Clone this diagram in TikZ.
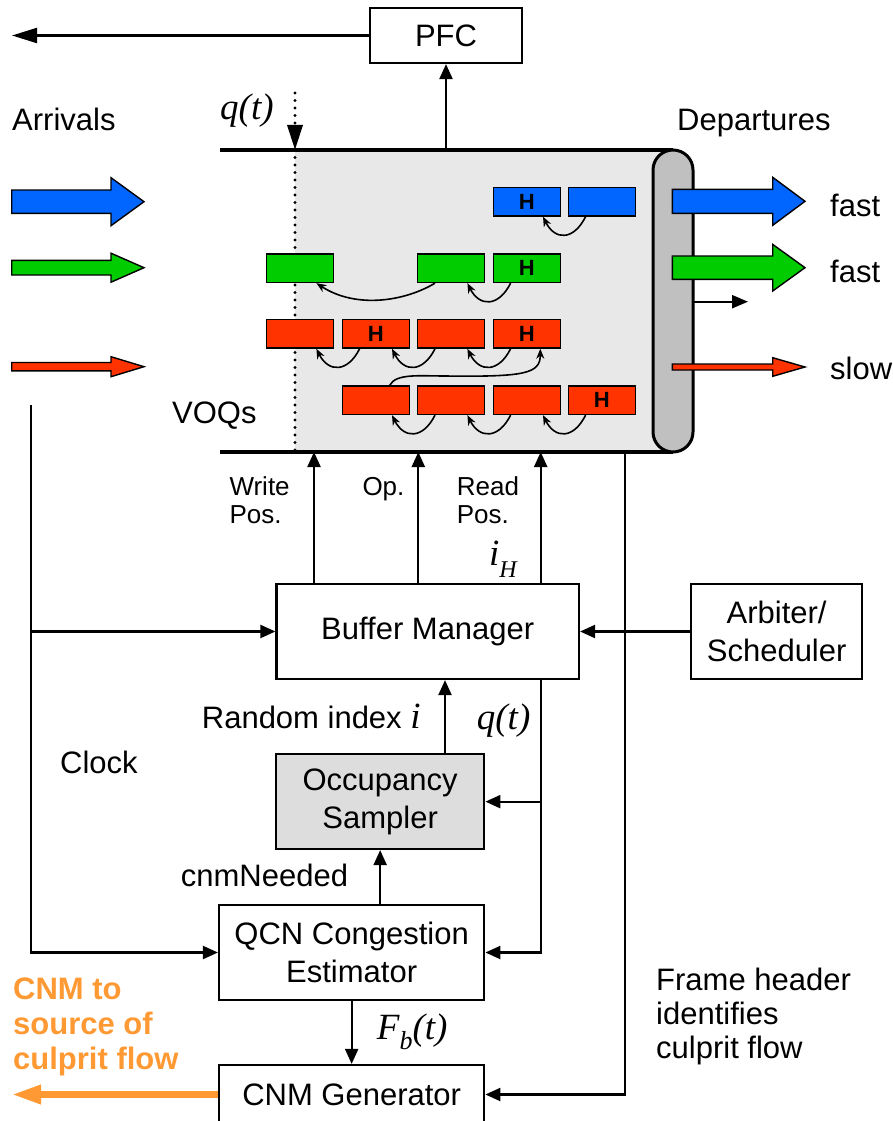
\documentclass[tikz,border=0pt]{standalone}
\usepackage{fontspec}
\setmainfont{Liberation Sans}
\newfontfamily\tms{Liberation Serif}
\usetikzlibrary{arrows.meta}
\definecolor{qblue}{RGB}{0,102,255}
\definecolor{qgreen}{RGB}{0,204,0}
\definecolor{qred}{RGB}{255,51,0}
\definecolor{qorange}{RGB}{255,153,51}
\definecolor{voqfill}{RGB}{232,232,232}
\definecolor{pillfill}{RGB}{192,192,192}
\definecolor{occfill}{RGB}{221,221,221}
\newcommand\fatarr[7]{\filldraw[fill=#1,draw=black,line width=1.4pt,line join=miter] ({#2},{#5-#6}) -- ({#3},{#5-#6}) -- ({#3},{#5-#7}) -- ({#4},{#5}) -- ({#3},{#5+#7}) -- ({#3},{#5+#6}) -- ({#2},{#5+#6}) -- cycle;}
\newcommand\mainsz{\fontsize{31}{37}\selectfont}
\newcommand\boxsz{\fontsize{31}{38}\selectfont}
\newcommand\smallsz{\fontsize{26}{28}\selectfont}
\newcommand\mathsz{\fontsize{37}{40}\selectfont}
\newcommand\hop[2]{\draw[carr] ([xshift=18pt]#1.south west) .. controls +(-12,24) and +(12,24) .. ([xshift=-18pt]#2.south east);}
\begin{document}
\begin{tikzpicture}[x=1pt,y=-1pt,
 box/.style={draw=black,line width=2.2pt,inner sep=0pt,font=\boxsz,align=center},
 lbl/.style={inner sep=0pt,anchor=base west,font=\mainsz},
 arr/.style={line width=2.2pt,-{Triangle[length=15pt,width=13pt]}},
 longarr/.style={line width=2.2pt,-{Triangle[length=25pt,width=15pt]}},
 dotline/.style={line width=3.3pt,dash pattern=on 0pt off 7.5pt,line cap=round},
 pkt/.style={draw=black,line width=1.4pt,minimum width=67pt,minimum height=28.5pt,inner sep=0pt,font=\fontsize{22}{22}\selectfont\bfseries},
 carr/.style={line width=1.6pt,-{Stealth[length=10pt,width=8pt]}},
]
\useasboundingbox (0,0) rectangle (893,1121);
\clip (0,0) rectangle (893,1121);

% ---------- VOQ buffer ----------
\fill[voqfill] (295,150) rectangle (673,452);
\draw[dotline] (295,150) -- (295,452);
\draw[line width=4pt] (220,150) -- (673,150);
\draw[line width=4pt] (220,452) -- (673,452);
\filldraw[fill=pillfill,draw=black,line width=3pt,rounded corners=20pt] (653,150) rectangle (693,452);

% q(t) dotted arrow
\coordinate (qtop) at (295,93);
\coordinate (qtip) at (295,150);
\draw[dotline,-{Triangle[length=25pt,width=15pt]}] (qtop) -- (qtip);

% ---------- packets ----------
\node[pkt,fill=qblue] (b4) at (526.8,201.7) {H};
\node[pkt,fill=qblue] (b5) at (601.8,201.7) {};
\node[pkt,fill=qgreen] (g1) at (300.2,268.2) {};
\node[pkt,fill=qgreen] (g3) at (451.2,268.2) {};
\node[pkt,fill=qgreen] (g4) at (526.8,268.2) {H};
\node[pkt,fill=qred] (r1a) at (300.2,333.8) {};
\node[pkt,fill=qred] (r1b) at (375.8,333.8) {H};
\node[pkt,fill=qred] (r1c) at (451.2,333.8) {};
\node[pkt,fill=qred] (r1d) at (526.8,333.8) {H};
\node[pkt,fill=qred] (r2b) at (375.8,400.2) {};
\node[pkt,fill=qred] (r2c) at (451.2,400.2) {};
\node[pkt,fill=qred] (r2d) at (526.8,400.2) {};
\node[pkt,fill=qred] (r2e) at (601.8,400.2) {H};

\hop{b5}{b4}
\hop{g4}{g3}
\hop{r1b}{r1a}
\hop{r1c}{r1b}
\hop{r1d}{r1c}
\hop{r2e}{r2d}
\hop{r2d}{r2c}
\hop{r2c}{r2b}
\draw[carr] ([xshift=18pt]g3.south west) .. controls +(-30,18) and +(40,26) .. ([xshift=-18pt]g1.south east);
\coordinate (upmid) at (445,376);
\draw[carr] ([xshift=14pt]r2b.north) .. controls +(6,-12) and +(-25,0) .. (upmid) .. controls +(80,1) and +(0,25) .. ([xshift=13.5pt]r1d.south);

% ---------- fat arrows ----------
\fatarr{qblue}{11.7}{111}{144}{201.7}{11.7}{24}
\fatarr{qgreen}{11.7}{111}{144}{267.7}{7.3}{14.5}
\fatarr{qred}{11.7}{111}{144}{366.7}{4.2}{10}
\fatarr{qblue}{672.3}{772.7}{805}{201.3}{12}{24}
\fatarr{qgreen}{672.3}{772.7}{805}{267.7}{11.7}{23.3}
\fatarr{qred}{672.3}{772.7}{805}{367}{3}{9.3}
\coordinate (sa0) at (693,301.7);
\coordinate (sa1) at (748,301.7);
\draw[line width=2.2pt,-{Triangle[length=16pt,width=13pt]}] (sa0) -- (sa1);

% ---------- boxes ----------
\node[box,minimum width=152pt,minimum height=55pt] (pfc) at (446,35.5) {PFC};
\node[box,minimum width=302.5pt,minimum height=95pt] (bm) at (427.75,631.5) {Buffer Manager};
\node[box,minimum width=171.3pt,minimum height=95pt] (arb) at (776.65,631.5) {Arbiter/\\Scheduler};
\node[box,fill=occfill,minimum width=208.3pt,minimum height=94.7pt] (occ) at (380.15,801.65) {Occupancy\\Sampler};
\node[box,minimum width=265.3pt,minimum height=95pt] (qcn) at (351.65,952.5) {QCN Congestion\\Estimator};
\node[box,minimum width=265.3pt,minimum height=59pt] (cnm) at (351.65,1094.5) {CNM Generator};

% ---------- connectors ----------
\coordinate (pfcin) at (446,150);
\coordinate (pfcout) at (12,35.5);
\draw[arr] (pfcin) -- (pfc.south);
\draw[longarr] (pfc.west) -- (pfcout);

\coordinate (wp) at (314,452);
\coordinate (op) at (418.3,452);
\coordinate (rp) at (540.7,452);
\draw[arr] (bm.north -| wp) -- (wp);
\draw[arr] (bm.north -| op) -- (op);
\draw[arr] (bm.north -| rp) -- (rp);

\draw[arr] (arb.west) -- (bm.east);

\coordinate (clk) at (31,405);
\draw[arr] (clk) |- (qcn.west);
\draw[arr] (clk |- bm.west) -- (bm.west);

\coordinate (qx) at (540.7,700);
\draw[arr] (bm.south -| qx) |- (qcn.east);
\draw[arr] (qx |- occ.east) -- (occ.east);

\coordinate (rix) at (445,700);
\draw[arr] (occ.north -| rix) -- (bm.south -| rix);
\draw[arr] (qcn.north -| occ.south) -- (occ.south);
\draw[arr] (qcn.south) -- (cnm.north);

\coordinate (fh) at (625,452);
\draw[arr] (fh) |- (cnm.east);

\coordinate (cnmout) at (12,1094.5);
\draw[qorange,line width=6.5pt,-{Triangle[length=29pt,width=18pt]}] (cnm.west) -- (cnmout);

% ---------- labels ----------
\node[lbl] (arrivals) at (12,131) {Arrivals};
\node[lbl] (departures) at (677,131) {Departures};
\node[lbl,font=\mathsz\tms\itshape] (qt1) at (220,120) {q(t)};
\node[lbl] (fast1) at (830,216) {fast};
\node[lbl] (fast2) at (830,282) {fast};
\node[lbl] (slow) at (830,379) {slow};
\node[lbl] (voqs) at (172,423) {VOQs};
\node[lbl,font=\smallsz] (wpl) at (229.3,495) {\begin{tabular}[t]{@{}l@{}}Write\\Pos.\end{tabular}};
\node[lbl,font=\smallsz] (opl) at (362.3,495) {Op.};
\node[lbl,font=\smallsz] (rpl) at (456.7,495) {\begin{tabular}[t]{@{}l@{}}Read\\Pos.\end{tabular}};
\node[lbl,font=\mathsz\tms\itshape] (ih) at (489,565) {i\raisebox{-12pt}{\fontsize{24}{24}\selectfont H}};
\node[lbl] (ril) at (201.7,728) {Random index {\mathsz\tms\itshape i}};
\node[lbl,font=\mathsz\tms\itshape] (qt2) at (476.7,729) {q(t)};
\node[lbl] (clock) at (60,773) {Clock};
\node[lbl] (cnmn) at (180.7,886) {cnmNeeded};
\node[lbl,font=\mathsz\tms\itshape] (fbl) at (376.7,1039) {F\raisebox{-10pt}{\fontsize{26}{26}\selectfont b}(t)};
\node[lbl,font=\fontsize{31}{35}\selectfont\bfseries,text=qorange] (cnmsrc) at (13,999) {\begin{tabular}[t]{@{}l@{}}CNM to\\source of\\culprit flow\end{tabular}};
\node[lbl,font=\fontsize{31}{34}\selectfont] (fhl) at (656,990) {\begin{tabular}[t]{@{}l@{}}Frame header\\identifies\\culprit flow\end{tabular}};
\end{tikzpicture}
\end{document}
